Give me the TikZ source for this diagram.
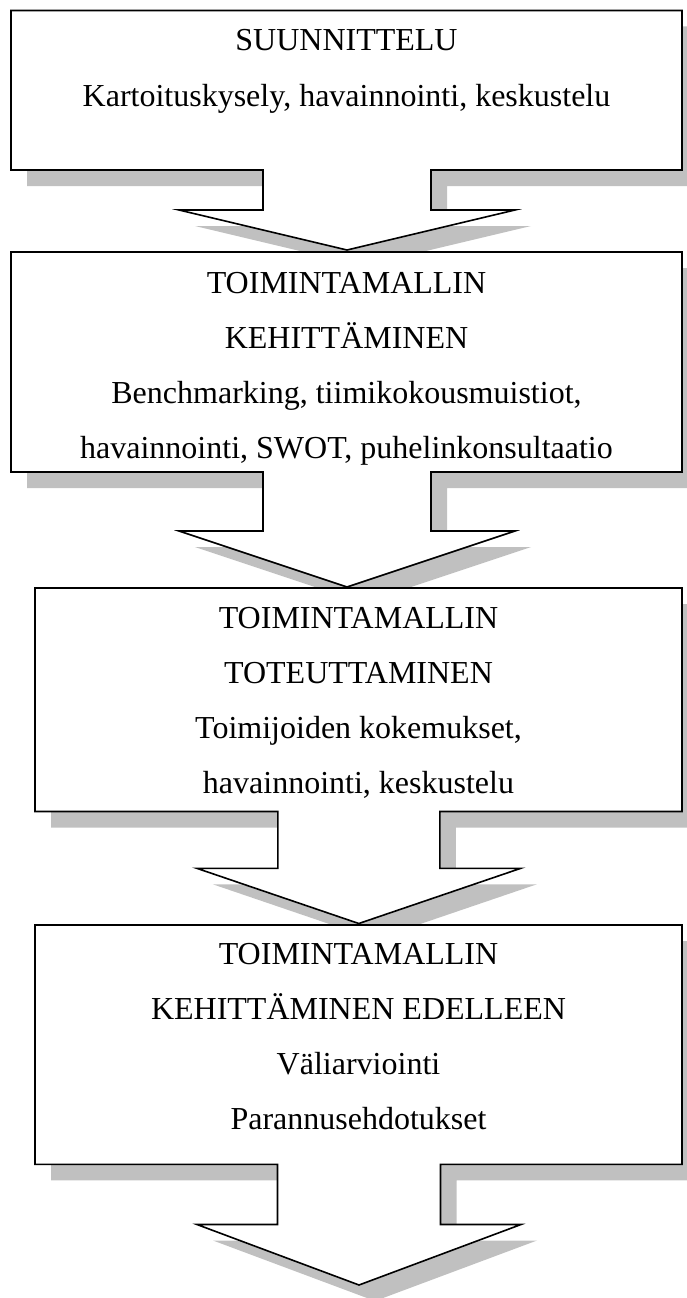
\documentclass[tikz,border=0pt]{standalone}
\usepackage{fontspec}
\setmainfont{Liberation Serif}
\definecolor{shadowgray}{HTML}{C0C0C0}
\tikzset{
  shadowshape/.style={fill=shadowgray, draw=none},
  mainshape/.style={fill=white, draw=black, line width=1.6pt, line join=miter},
  txt/.style={anchor=base, inner sep=0pt, font=\fontsize{32}{38}\selectfont}
}
% #1 style, #2 left x, #3 top y, #4 bottom y, #5 arrow centre x,
% #6 stem half width, #7 head half width, #8 head top y, #9 tip y
\newcommand\calloutshape[9]{%
  \path[#1] (#2,#3) -- (682,#3) -- (682,#4) -- ({#5+#6},#4) -- ({#5+#6},#8)
    -- ({#5+#7},#8) -- (#5,#9) -- ({#5-#7},#8) -- ({#5-#6},#8)
    -- ({#5-#6},#4) -- (#2,#4) -- cycle;}
\begin{document}
\begin{tikzpicture}[x=1pt, y=-1pt]
\useasboundingbox (0,0) rectangle (687,1298);
\clip (0,0) rectangle (687,1298);
% shadows
\begin{scope}[shift={(16,16)}]
  \calloutshape{shadowshape}{11}{10.5}{170}{347}{84}{168}{210}{250}
  \calloutshape{shadowshape}{11}{252}{472}{347}{84}{168}{531}{587}
  \calloutshape{shadowshape}{35}{588}{811.5}{358.8}{81}{162}{868.3}{923.5}
  \calloutshape{shadowshape}{35}{925}{1164.3}{359}{81.5}{162}{1224.5}{1285}
\end{scope}
% shapes
\calloutshape{mainshape}{11}{10.5}{170}{347}{84}{168}{210}{250}
\calloutshape{mainshape}{11}{252}{472}{347}{84}{168}{531}{587}
\calloutshape{mainshape}{35}{588}{811.5}{358.8}{81}{162}{868.3}{923.5}
\calloutshape{mainshape}{35}{925}{1164.3}{359}{81.5}{162}{1224.5}{1285}
% texts
\node[txt] (a1) at (346.5,50.7) {SUUNNITTELU};
\node[txt] (a2) at (346.5,106) {Kartoituskysely, havainnointi, keskustelu};
\node[txt] (b1) at (346.5,293) {TOIMINTAMALLIN};
\node[txt] (b2) at (346.5,348) {KEHITTÄMINEN};
\node[txt] (b3) at (346.5,403) {Benchmarking, tiimikokousmuistiot,};
\node[txt] (b4) at (346.5,458) {havainnointi, SWOT, puhelinkonsultaatio};
\node[txt] (c1) at (358.5,628.5) {TOIMINTAMALLIN};
\node[txt] (c2) at (358.5,683.5) {TOTEUTTAMINEN};
\node[txt] (c3) at (358.5,738.5) {Toimijoiden kokemukset,};
\node[txt] (c4) at (358.5,793.5) {havainnointi, keskustelu};
\node[txt] (d1) at (358.5,964.5) {TOIMINTAMALLIN};
\node[txt] (d2) at (358.5,1019.5) {KEHITTÄMINEN EDELLEEN};
\node[txt] (d3) at (358.5,1074.5) {Väliarviointi};
\node[txt] (d4) at (358.5,1129.5) {Parannusehdotukset};
\end{tikzpicture}
\end{document}
